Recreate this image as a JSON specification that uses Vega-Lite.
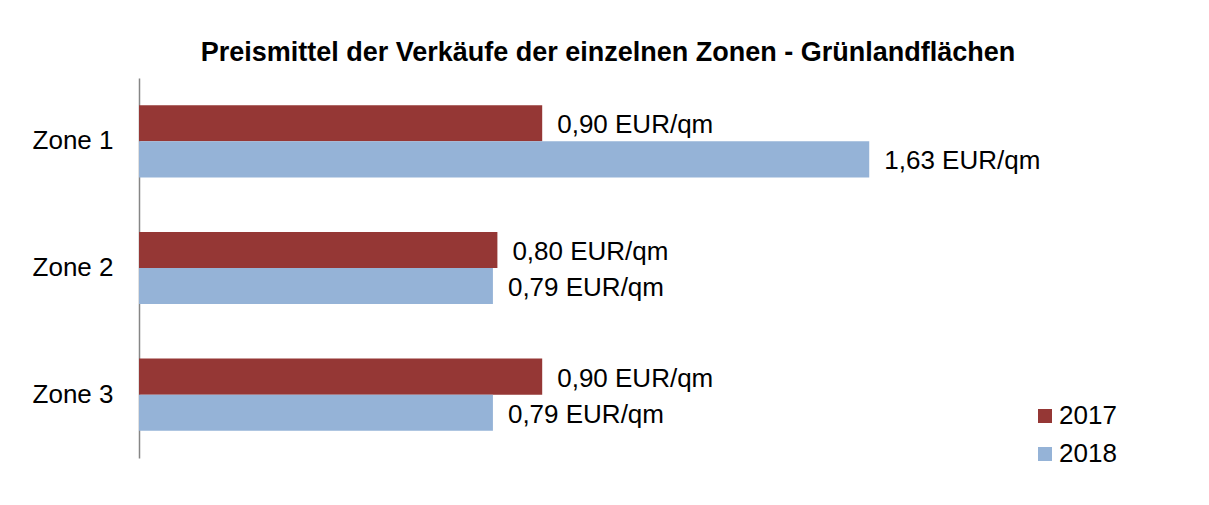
{
  "$schema": "https://vega.github.io/schema/vega-lite/v6.json",
  "autosize": "none",
  "width": 896,
  "height": 380,
  "padding": {"left": 139, "top": 78, "right": 174, "bottom": 47},
  "background": "white",
  "config": {
    "font": "Liberation Sans",
    "view": {"stroke": null}
  },
  "title": {
    "text": "Preismittel  der Verkäufe der einzelnen Zonen - Grünlandflächen",
    "font": "Liberation Sans",
    "fontSize": 27,
    "fontWeight": "bold",
    "color": "#000000",
    "anchor": "middle",
    "dx": 21,
    "offset": 11
  },
  "data": {
    "values": [
      {"zone": "Zone 1", "year": "2017", "value": 0.90, "label": "0,90 EUR/qm"},
      {"zone": "Zone 1", "year": "2018", "value": 1.63, "label": "1,63 EUR/qm"},
      {"zone": "Zone 2", "year": "2017", "value": 0.80, "label": "0,80 EUR/qm"},
      {"zone": "Zone 2", "year": "2018", "value": 0.79, "label": "0,79 EUR/qm"},
      {"zone": "Zone 3", "year": "2017", "value": 0.90, "label": "0,90 EUR/qm"},
      {"zone": "Zone 3", "year": "2018", "value": 0.79, "label": "0,79 EUR/qm"}
    ]
  },
  "encoding": {
    "y": {
      "field": "zone",
      "type": "nominal",
      "scale": {"paddingInner": 0.43, "paddingOuter": 0.215},
      "axis": {
        "title": null,
        "ticks": false,
        "domainColor": "#868686",
        "domainWidth": 1.5,
        "labelFontSize": 26,
        "labelColor": "#000000",
        "labelPadding": 26,
        "labelFont": "Liberation Sans"
      }
    },
    "yOffset": {"field": "year", "type": "nominal", "scale": {"paddingInner": 0, "paddingOuter": 0}},
    "x": {"field": "value", "type": "quantitative", "scale": {"domain": [0, 2], "nice": false}, "axis": null}
  },
  "layer": [
    {
      "mark": {"type": "bar", "cornerRadius": 0},
      "encoding": {
        "color": {
          "field": "year",
          "type": "nominal",
          "scale": {"domain": ["2017", "2018"], "range": ["#953735", "#95B3D7"]},
          "legend": {
            "title": null,
            "orient": "none",
            "legendX": 893,
            "legendY": 325,
            "symbolType": "square",
            "symbolSize": 196,
            "symbolStrokeWidth": 0,
            "labelFontSize": 26,
            "labelColor": "#000000",
            "labelFont": "Liberation Sans",
            "labelOffset": 1,
            "rowPadding": 12
          }
        }
      }
    },
    {
      "mark": {"type": "text", "align": "left", "baseline": "middle", "dx": 15, "dy": 2, "fontSize": 26, "font": "Liberation Sans", "color": "#000000"},
      "encoding": {"text": {"field": "label"}}
    }
  ]
}
